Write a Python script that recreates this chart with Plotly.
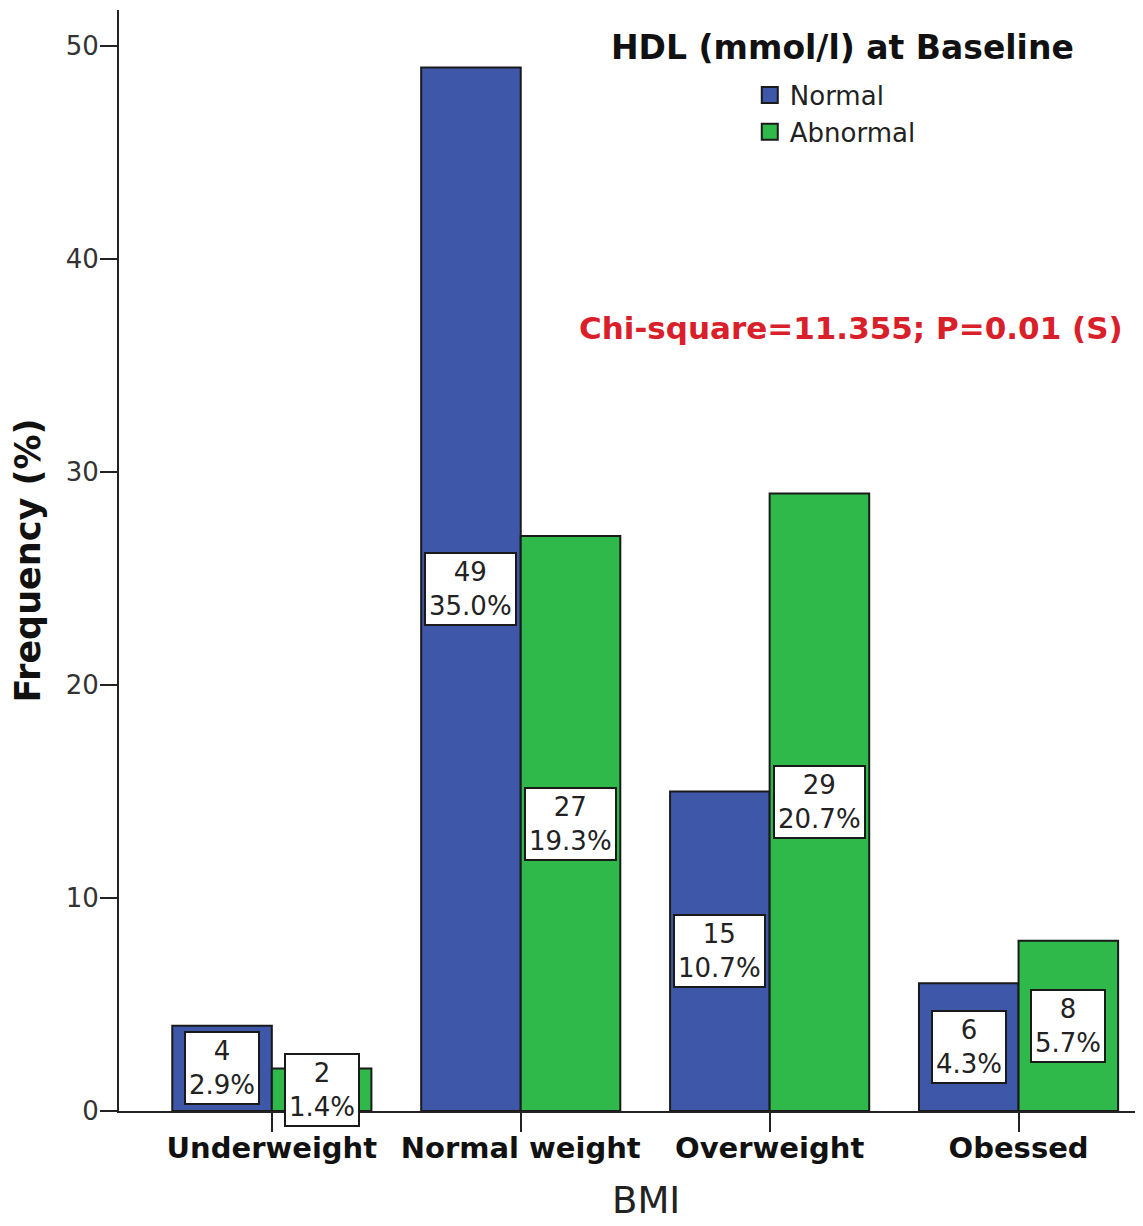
import plotly.graph_objects as go

categories = ["Underweight", "Normal weight", "Overweight", "Obessed"]
normal_counts = [4, 49, 15, 6]
abnormal_counts = [2, 27, 29, 8]
normal_pct = [2.9, 35.0, 10.7, 4.3]
abnormal_pct = [1.4, 19.3, 20.7, 5.7]
y_ticks = [0, 10, 20, 30, 40, 50]

BLUE = "#3E57A9"
GREEN = "#2FB94A"
OUTLINE = "#1a1a1a"
FONT = "DejaVu Sans"
BARGAP = 0.2

fig = go.Figure()
fig.add_trace(go.Bar(x=categories, y=normal_counts, name="Normal", marker=dict(color=BLUE, line=dict(color=OUTLINE, width=2)), showlegend=False))
fig.add_trace(go.Bar(x=categories, y=abnormal_counts, name="Abnormal", marker=dict(color=GREEN, line=dict(color=OUTLINE, width=2)), showlegend=False))

# legend swatches
for name, col in [("Normal", BLUE), ("Abnormal", GREEN)]:
    fig.add_trace(go.Scatter(x=[None], y=[None], mode="markers", name=name,
                             marker=dict(symbol="square", size=16, color=col, line=dict(color=OUTLINE, width=2))))

half = (1 - BARGAP) / 4
annotations = []
for i, cat in enumerate(categories):
    for counts, pcts, off in [(normal_counts, normal_pct, -half), (abnormal_counts, abnormal_pct, half)]:
        annotations.append(dict(
            x=i + off, y=counts[i] / 2, xref="x", yref="y",
            text=f"{counts[i]}<br>{pcts[i]:.1f}%", showarrow=False,
            font=dict(family=FONT, size=26, color="#222"),
            bgcolor="white", bordercolor=OUTLINE, borderwidth=2, borderpad=3,
            xanchor="center", yanchor="middle"))

annotations.append(dict(x=0.707, y=0.966, xref="paper", yref="paper", showarrow=False,
                        text="<b>HDL (mmol/l) at Baseline</b>", xanchor="center", yanchor="middle",
                        font=dict(family=FONT, size=33, color="#111")))
annotations.append(dict(x=0.982, y=0.711, xref="paper", yref="paper", showarrow=False,
                        text="<b>Chi-square=11.355; P=0.01 (S)</b>", xanchor="right", yanchor="middle",
                        font=dict(family=FONT, size=31, color="#D9202A")))
annotations.append(dict(x=0.515, y=-0.0817, xref="paper", yref="paper", showarrow=False,
                        text="BMI", xanchor="center", yanchor="middle",
                        font=dict(family=FONT, size=37, color="#222")))

fig.update_layout(
    width=1135, height=1218,
    margin=dict(l=111, r=0, t=2, b=115),
    paper_bgcolor="white", plot_bgcolor="white",
    barmode="group", bargap=BARGAP, bargroupgap=0,
    font=dict(family=FONT, color="#222"),
    annotations=annotations,
    legend=dict(x=0.616, y=0.944, xanchor="left", yanchor="top",
                font=dict(family=FONT, size=26, color="#222"),
                bgcolor="rgba(0,0,0,0)", tracegroupgap=0, itemsizing="trace"),
    xaxis=dict(type="category", range=[-0.614, 3.5], showline=True, linecolor="#222", linewidth=2,
               ticks="outside", ticklen=19, tickcolor="#222", tickwidth=2, ticklabelstandoff=-9,
               tickfont=dict(family=FONT, size=29, color="#111"),
               tickvals=categories, ticktext=[f"<b>{c}</b>" for c in categories],
               showgrid=False, zeroline=False),
    yaxis=dict(range=[0, 51.7], showline=True, linecolor="#222", linewidth=2,
               ticks="outside", ticklen=17, tickcolor="#222", tickwidth=2, ticklabelstandoff=-4,
               tickvals=y_ticks, tickfont=dict(family=FONT, size=26, color="#333"),
               showgrid=False, zeroline=False,
               title=dict(text="<b>Frequency (%)</b>", font=dict(family=FONT, size=35, color="#111"), standoff=15)),
)

fig.write_html("out.html")
